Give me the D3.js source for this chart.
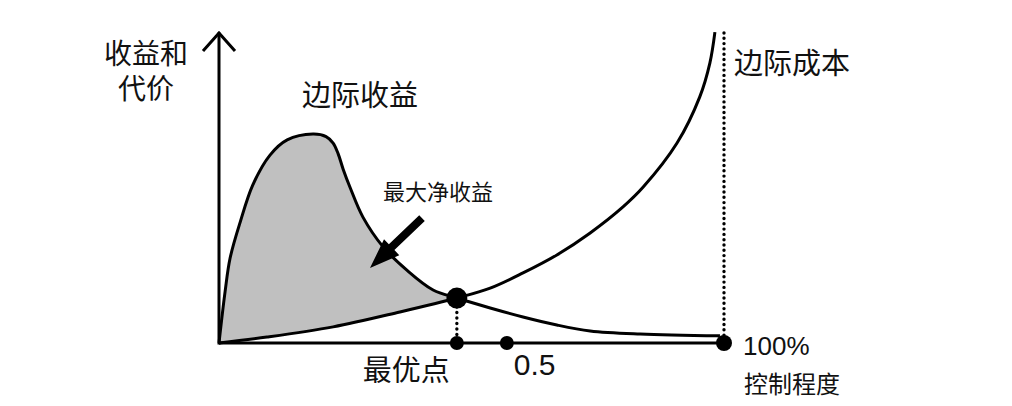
<!DOCTYPE html>
<html><head><meta charset="utf-8">
<script src="https://cdn.jsdelivr.net/npm/d3@7"></script>
<style>html,body{margin:0;padding:0;background:#fff;} svg{display:block;}</style>
</head><body>
<svg id="chart" width="1012" height="406"></svg>
<script>
// Marginal benefit curve (control degree, value)
const mbX = [0, 0.012, 0.022, 0.042, 0.067, 0.101, 0.135, 0.186, 0.212, 0.226, 0.236, 0.246, 0.260, 0.285, 0.325, 0.372, 0.424, 0.471, 0.537, 0.602, 0.669, 0.735, 0.834, 0.992];
const mbY = [0, 0.165, 0.274, 0.390, 0.510, 0.606, 0.655, 0.674, 0.666, 0.645, 0.610, 0.560, 0.500, 0.406, 0.310, 0.235, 0.171, 0.145, 0.113, 0.084, 0.058, 0.039, 0.029, 0.023];
// Marginal cost curve
const mcX = [0, 0.095, 0.226, 0.358, 0.471, 0.537, 0.602, 0.669, 0.735, 0.800, 0.840, 0.907, 0.952, 0.972, 0.982];
const mcY = [0, 0.019, 0.052, 0.100, 0.145, 0.177, 0.226, 0.284, 0.355, 0.439, 0.503, 0.645, 0.794, 0.903, 1.003];
// Optimum point
const optX = 0.471, optY = 0.145;
// Axis markers
const markX = [0.471, 0.57, 1.0];
const markLabels = ["最优点", "0.5", "100%"];
// Texts
const yTitle = ["收益和", "代价"];
const xTitle = "控制程度";
const mbLabel = "边际收益";
const mcLabel = "边际成本";
const netLabel = "最大净收益";
// annotation arrow (tail, tip) in data units
const arrowTail = [0.402, 0.403], arrowTip = [0.299, 0.242];

const svg = d3.select("#chart");
const x = d3.scaleLinear().domain([0, 1]).range([219, 724]);
const y = d3.scaleLinear().domain([0, 1]).range([343, 33]);
const cjk = "'Noto Sans CJK SC','Noto Sans',sans-serif";
const latinFirst = "'Liberation Sans','Noto Sans CJK SC',sans-serif";
const latin = "'Liberation Sans','Arial',sans-serif";
const curve = d3.curveCatmullRom.alpha(0.5);

const mb = mbX.map((d, i) => [d, mbY[i]]);
const mc = mcX.map((d, i) => [d, mcY[i]]);

// shaded net benefit region
const clip = svg.append("defs").append("clipPath").attr("id", "optclip");
clip.append("rect").attr("x", x(0)).attr("y", 0).attr("width", x(optX) - x(0)).attr("height", 406);
const area = d3.area().x(d => x(d[0])).y0(y(0)).y1(d => y(d[1])).curve(curve);
const g = svg.append("g").attr("clip-path", "url(#optclip)");
g.append("path").attr("d", area(mb)).attr("fill", "#c0c0c0");
g.append("path").attr("d", area(mc)).attr("fill", "#fff");

// dotted verticals
svg.append("line").attr("x1", x(optX)).attr("x2", x(optX)).attr("y1", y(optY) + 9).attr("y2", y(0) - 5)
  .attr("stroke", "#000").attr("stroke-width", 3.4).attr("stroke-dasharray", "0,5.5").attr("stroke-linecap", "round");
svg.append("line").attr("x1", x(1)).attr("x2", x(1)).attr("y1", y(1.0)).attr("y2", y(0) - 6)
  .attr("stroke", "#000").attr("stroke-width", 3.4).attr("stroke-dasharray", "0,5.3").attr("stroke-linecap", "round");

// curves
const line = d3.line().x(d => x(d[0])).y(d => y(d[1])).curve(curve);
svg.append("path").attr("d", line(mb)).attr("fill", "none").attr("stroke", "#000").attr("stroke-width", 3);
svg.append("path").attr("d", line(mc)).attr("fill", "none").attr("stroke", "#000").attr("stroke-width", 3);

// axes
svg.append("line").attr("x1", x(0)).attr("x2", x(1)).attr("y1", y(0)).attr("y2", y(0))
  .attr("stroke", "#000").attr("stroke-width", 3);
svg.append("line").attr("x1", x(0)).attr("x2", x(0)).attr("y1", y(0) + 1.5).attr("y2", y(1.0) - 0.5)
  .attr("stroke", "#000").attr("stroke-width", 3);
svg.append("path").attr("d", `M${x(0) - 16},${y(1.0) + 18}L${x(0)},${y(1.0)}L${x(0) + 16},${y(1.0) + 18}`)
  .attr("fill", "none").attr("stroke", "#000").attr("stroke-width", 3);

// markers
svg.append("circle").attr("cx", x(optX)).attr("cy", y(optY)).attr("r", 10.5).attr("fill", "#000");
const mr = [7, 7, 8];
markX.forEach((d, i) => svg.append("circle").attr("cx", x(d)).attr("cy", y(0)).attr("r", mr[i]).attr("fill", "#000"));

// annotation arrow
(function () {
  const tx = x(arrowTail[0]), ty = y(arrowTail[1]);
  const hx = x(arrowTip[0]), hy = y(arrowTip[1]);
  const dx = hx - tx, dy = hy - ty, L = Math.hypot(dx, dy);
  const ux = dx / L, uy = dy / L, px = -uy, py = ux;
  const headLen = 30, headW = 11, shaftW = 4;
  const bx = hx - ux * headLen, by = hy - uy * headLen;
  const pts = [
    [tx + px * shaftW, ty + py * shaftW],
    [bx + px * shaftW, by + py * shaftW],
    [bx + px * headW, by + py * headW],
    [hx, hy],
    [bx - px * headW, by - py * headW],
    [bx - px * shaftW, by - py * shaftW],
    [tx - px * shaftW, ty - py * shaftW]
  ];
  svg.append("path").attr("d", "M" + pts.map(p => p.join(",")).join("L") + "Z").attr("fill", "#000");
})();

// texts
const t = (txt, xx, yy, size, anchor, fam) => svg.append("text").text(txt).attr("x", xx).attr("y", yy)
  .attr("font-size", size).attr("text-anchor", anchor || "start").attr("font-family", fam || cjk).attr("fill", "#111");
t(yTitle[0], 146, 64, 28, "middle", latinFirst);
t(yTitle[1], 146, 99, 28, "middle", latinFirst);
t(mbLabel, 360, 106, 29, "middle");
t(mcLabel, 734, 74, 29, "start");
t(netLabel, 438, 200, 22, "middle");
t(markLabels[0], x(markX[0]) - 7, 381, 29, "end");
t(markLabels[1], x(markX[1]) + 7, 375, 30, "start", latin);
t(markLabels[2], x(markX[2]) + 19, 355, 26, "start", latin);
t(xTitle, 744, 393, 24, "start");
</script>
</body></html>
